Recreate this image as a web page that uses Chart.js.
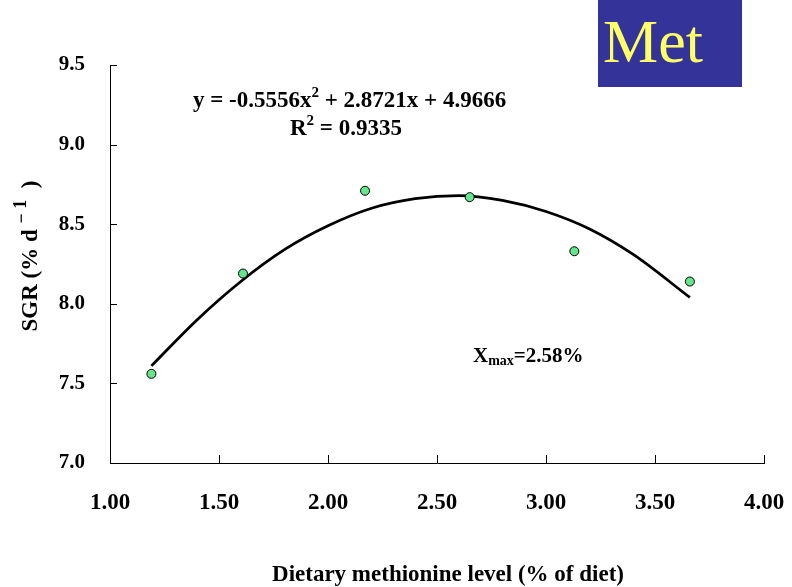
<!DOCTYPE html>
<html>
<head>
<meta charset="utf-8">
<script src="https://cdn.jsdelivr.net/npm/chart.js@4.4.0/dist/chart.umd.min.js"></script>
<style>
  html, body { margin: 0; padding: 0; background: #fff; }
  #wrap { width: 792px; height: 587px; position: relative; }
</style>
</head>
<body>
<div id="wrap"><canvas id="sgrChart" width="792" height="587"></canvas></div>
<script>
// measured points (dietary Met level vs SGR)
const doseLevels = [1.19, 1.61, 2.17, 2.65, 3.13, 3.66];
const sgrValues = [7.56, 8.19, 8.71, 8.67, 8.33, 8.14];

// fitted curve
const fitX = [1.19, 1.4, 1.6, 1.8, 2.0, 2.2, 2.4, 2.6, 2.8, 3.0, 3.2, 3.4, 3.66];
const fitY = [7.61, 7.90, 8.14, 8.34, 8.49, 8.60, 8.66, 8.68, 8.65, 8.58, 8.47, 8.31, 8.04];

const xTicks = [1.0, 1.5, 2.0, 2.5, 3.0, 3.5, 4.0];
const yTicks = [7.0, 7.5, 8.0, 8.5, 9.0, 9.5];

const serif = "'Liberation Serif', 'Times New Roman', serif";

const toXY = (xs, ys) => xs.map((x, i) => ({ x: x, y: ys[i] }));

// draw a run of [text, size, dy] pieces from x along the baseline
function drawRun(ctx, pieces, x, y) {
    pieces.forEach(([t, size, dy]) => {
        ctx.font = 'bold ' + size + 'px ' + serif;
        ctx.fillText(t, x, y + dy);
        x += ctx.measureText(t).width;
    });
    return x;
}
function runWidth(ctx, pieces) {
    let w = 0;
    pieces.forEach(([t, size]) => {
        ctx.font = 'bold ' + size + 'px ' + serif;
        w += ctx.measureText(t).width;
    });
    return w;
}

// tick marks pointing into the plot + the text annotations
const decorations = {
    id: 'decorations',
    afterDraw(chart) {
        const { ctx, scales: { x, y }, chartArea } = chart;
        ctx.save();
        ctx.strokeStyle = '#000';
        ctx.lineWidth = 1;
        ctx.beginPath();
        xTicks.forEach(v => {
            const px = Math.round(x.getPixelForValue(v)) + 0.5;
            ctx.moveTo(px, chartArea.bottom);
            ctx.lineTo(px, chartArea.bottom - 8);
        });
        yTicks.forEach(v => {
            const py = Math.round(y.getPixelForValue(v)) + 0.5;
            ctx.moveTo(chartArea.left, py);
            ctx.lineTo(chartArea.left + 7, py);
        });
        ctx.stroke();

        // title box
        ctx.fillStyle = '#333399';
        ctx.fillRect(598, 0, 144, 87);
        ctx.fillStyle = '#FFFF66';
        ctx.font = '62px ' + serif;
        ctx.textBaseline = 'alphabetic';
        ctx.textAlign = 'left';
        ctx.fillText('Met', 603, 62);

        ctx.fillStyle = '#000';
        // equation and R2
        drawRun(ctx, [['y = -0.5556x', 23, 0], ['2', 15, -10], [' + 2.8721x + 4.9666', 23, 0]], 193, 107);
        drawRun(ctx, [['R', 23, 0], ['2', 15, -10], [' = 0.9335', 23, 0]], 290, 135);

        // Xmax label
        drawRun(ctx, [['X', 21, 0], ['max', 14, 3], ['=2.58%', 21, 0]], 473, 362);

        // x axis title
        ctx.font = 'bold 23px ' + serif;
        ctx.textAlign = 'center';
        ctx.fillText('Dietary methionine level (% of diet)', 448, 581);
        ctx.textAlign = 'left';

        // y axis title, rotated
        const yTitle = [['SGR (% d ', 23, 0], ['\u2212', 18, -10], [' 1', 18, -11], ['  )', 23, 0]];
        const w = runWidth(ctx, yTitle);
        ctx.translate(37, 256);
        ctx.rotate(-Math.PI / 2);
        drawRun(ctx, yTitle, -w / 2, 0);
        ctx.restore();
    }
};

new Chart(document.getElementById('sgrChart'), {
    type: 'scatter',
    data: {
        datasets: [
            {
                label: 'fit',
                data: toXY(fitX, fitY),
                showLine: true,
                borderColor: '#000',
                borderWidth: 2.8,
                pointRadius: 0,
                cubicInterpolationMode: 'monotone',
                order: 2
            },
            {
                label: 'SGR',
                data: toXY(doseLevels, sgrValues),
                backgroundColor: '#66E68C',
                borderColor: '#000',
                borderWidth: 1,
                pointRadius: 4.5,
                order: 1
            }
        ]
    },
    options: {
        responsive: false,
        animation: false,
        layout: { padding: { top: 65, right: 28, left: 0, bottom: 0 } },
        plugins: {
            legend: { display: false },
            tooltip: { enabled: false }
        },
        scales: {
            x: {
                type: 'linear',
                min: 1,
                max: 4,
                afterFit: s => {
                    s.height = 124;
                    s.paddingLeft = 0;
                    s.paddingRight = 0;
                },
                afterBuildTicks: s => { s.ticks = xTicks.map(v => ({ value: v })); },
                grid: { display: true, drawOnChartArea: false, drawTicks: false },
                border: { display: true, color: '#000', width: 1 },
                ticks: {
                    color: '#000',
                    padding: 26,
                    font: { family: serif, size: 23, weight: 'bold' },
                    callback: v => v.toFixed(2)
                }
            },
            y: {
                min: 7,
                max: 9.5,
                afterFit: s => { s.width = 110; },
                afterBuildTicks: s => { s.ticks = yTicks.map(v => ({ value: v })); },
                grid: { display: true, drawOnChartArea: false, drawTicks: false },
                border: { display: true, color: '#000', width: 1 },
                ticks: {
                    color: '#000',
                    padding: 25,
                    font: { family: serif, size: 21, weight: 'bold' },
                    callback: v => v.toFixed(1)
                }
            }
        }
    },
    plugins: [decorations]
});
</script>
</body>
</html>
